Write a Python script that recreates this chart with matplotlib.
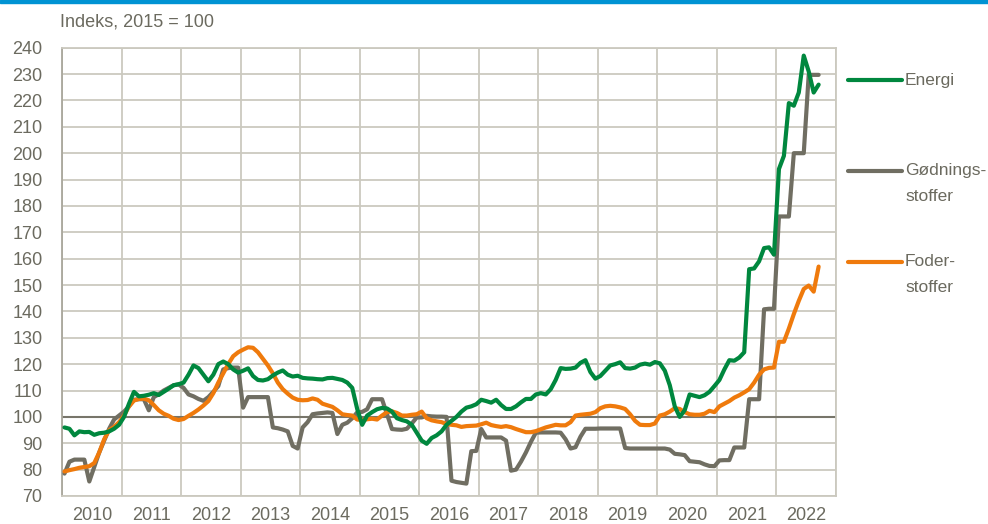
import numpy as np
import matplotlib
matplotlib.use("Agg")
import matplotlib.pyplot as plt
from matplotlib.lines import Line2D

plt.rcParams['font.family'] = ['Liberation Sans', 'DejaVu Sans']

# monthly index values, jan 2010 - sep 2022
years = list(range(2010, 2023))
energi = [
    96, 95.5, 93, 94.5, 94.2, 94.3, 93.2, 93.8, 94, 94.5, 95.5, 97,             # 2010
    100, 105, 109.5, 107.8, 108, 108.4, 109, 108.3, 109.5, 110.7, 112, 112.4,   # 2011
    113, 116, 119.5, 118.5, 116, 113.5, 116, 120, 121, 120, 118, 116.8,         # 2012
    117.5, 118.4, 115.5, 114, 113.8, 114.3, 115.7, 116.8, 117.6, 116, 115.3, 115.6,
    114.8, 114.6, 114.5, 114.3, 114.2, 114.7, 114.8, 114.4, 114, 113, 111, 103,
    97, 100.5, 101.8, 102.9, 103.4, 103.2, 102, 99.5, 98.8, 98.3, 97, 94,       # 2015
    91, 89.8, 92, 93, 94.5, 97, 98.5, 100, 102, 103.5, 104, 104.8,
    106.5, 106, 105.4, 106.5, 104.5, 103, 103, 104, 105.5, 106.8, 106.8, 108.5,
    109, 108.5, 110.5, 114, 118.5, 118.2, 118.3, 118.7, 120.5, 121.5, 117, 114.5,
    115.5, 117.5, 119.5, 120, 120.7, 118.5, 118.3, 118.7, 119.8, 120.2, 119.8, 120.8,
    120.3, 117.5, 112, 104, 100, 102.5, 108.5, 108, 107.5, 108.2, 109.5, 111.7,  # 2020
    114, 118, 121.5, 121.3, 122.5, 124.5, 156, 156.3, 159, 164, 164.3, 161.5,
    194, 199, 219, 218, 223, 237, 231, 223, 226,                                 # 2022
]
goedning = [
    78.5, 83, 83.8, 83.8, 83.8, 75.5, 81, 86.5, 91, 95.5, 99, 100.5,
    102, 104, 106.5, 106.7, 106.7, 102.5, 107.5, 108.6, 110, 111, 112, 112.3,
    111, 108.5, 107.8, 106.8, 106.1, 107.5, 109.5, 111.7, 118, 118.5, 118.7, 118.7,
    103.5, 107.5, 107.5, 107.5, 107.5, 107.5, 96, 95.7, 95.2, 94.5, 89, 88,
    96, 98, 101, 101.3, 101.5, 101.7, 101.5, 93.5, 97, 97.8, 99.5, 101.7,
    101.9, 102.9, 106.7, 106.7, 106.7, 101, 95.4, 95.2, 95.1, 95.5, 97.5, 99.8,
    99.8, 100.4, 100.2, 100.1, 100.1, 100, 75.8, 75.3, 75, 74.7, 87, 87.1,
    95.4, 92.2, 92.2, 92.2, 92.2, 91, 79.6, 80, 83, 86.5, 90.5, 94,
    94.1, 94.1, 94.1, 94.1, 94, 91.5, 88, 88.5, 92.5, 95.5, 95.5, 95.5,
    95.6, 95.6, 95.6, 95.6, 95.6, 88.2, 88, 88, 88, 88, 88, 88,
    88, 88, 87.6, 86, 85.8, 85.5, 83.2, 83, 82.8, 82, 81.4, 81.3,
    83.5, 83.6, 83.6, 88.4, 88.4, 88.4, 106.7, 106.7, 106.7, 140.8, 141, 141,
    176, 176, 176, 200, 200, 200, 229.7, 229.7, 229.7,
]
foder = [
    79.3, 79.8, 80.2, 80.7, 81, 81.3, 82.5, 86.5, 91.5, 95, 96.2, 98,
    100.5, 104, 106.2, 106.8, 106.9, 106.3, 104.5, 102.5, 101.2, 100.4, 99.3, 98.8,
    99.2, 100.4, 101.5, 102.8, 104.3, 106, 109, 113, 116.5, 120, 123, 124.5,
    125.5, 126.4, 126.2, 124.5, 122, 119.5, 116.5, 113, 110.5, 108.8, 107.3, 106.5,
    106.3, 106.4, 107, 106.5, 105, 104.4, 103.8, 102.5, 101, 100.7, 100.5, 99,
    98.8, 99.1, 99.3, 99, 100.5, 101.8, 102.1, 101.5, 100.5, 100.5, 100.8, 101,
    102, 99.5, 98.7, 98.3, 98, 97.3, 97, 96.8, 96.2, 96.5, 96.6, 96.7,
    97.2, 97.8, 96.9, 96.5, 96.2, 96.5, 96.1, 95.4, 94.8, 94.2, 94.2, 94.6,
    95.3, 96, 96.5, 97, 96.8, 96.8, 98, 100.5, 100.8, 101, 101.2, 101.8,
    103.3, 104, 104.2, 104, 103.6, 103, 101, 98.5, 97, 96.9, 96.9, 97.5,
    100.5, 101, 102, 103.3, 103, 101.8, 101, 100.8, 100.8, 101.2, 102.3, 101.8,
    104, 105, 106, 107.3, 108.2, 109.3, 110.5, 113, 116, 118, 118.6, 118.7,
    128.5, 128.5, 133.5, 139, 144, 148.5, 149.8, 147.5, 157,
]

green = '#00873e'
grey = '#706e62'
orange = '#ef7a0c'
txt = '#6b6a5f'
grid = '#cbc9bf'
fs = 13

fig = plt.figure(figsize=(9.88, 5.24), dpi=100)
ax = fig.add_axes([62 / 988, 1 - 496 / 524, (836 - 62) / 988, (496 - 47.7) / 524])

x = np.arange(len(energi)) + 0.5
ax.plot(x, goedning, color=grey, lw=3, solid_capstyle='round', zorder=3)
ax.plot(x, foder, color=orange, lw=3, solid_capstyle='round', zorder=4)
ax.plot(x, energi, color=green, lw=3, solid_capstyle='round', zorder=5)

ax.axhline(100, color='#77756a', lw=1.5, zorder=2)

ax.set_xlim(0, 12 * len(years))
ax.set_ylim(70, 240)
ax.set_xticks(np.arange(0, 12 * len(years) + 1, 12))
ax.set_xticks(np.arange(6, 12 * len(years), 12), minor=True)
ax.set_xticklabels([])
ax.set_xticklabels([str(y) for y in years], minor=True)
ax.set_yticks(np.arange(70, 241, 10))
ax.grid(True, which='major', color=grid, lw=1.3, zorder=0)
ax.tick_params(which='both', length=0, labelsize=fs, colors=txt)
ax.tick_params(axis='y', pad=14)
ax.tick_params(axis='x', which='minor', pad=8)
for s in ax.spines.values():
    s.set_color(grid)
    s.set_linewidth(1.3)
ax.spines['left'].set_color('#a9a79c')

fig.text(60 / 988, 1 - 22 / 524, 'Indeks, 2015 = 100', fontsize=fs, color=txt,
         va='center', ha='left')

# legend on the right, first text line centred on the swatch
legend_items = [(green, 80, ['Energi']), (grey, 171, ['Gødnings-', 'stoffer']),
                (orange, 262, ['Foder-', 'stoffer'])]
for col, ypx, lines in legend_items:
    yf = 1 - ypx / 524
    fig.add_artist(Line2D([848 / 988, 902 / 988], [yf, yf], color=col, lw=3,
                          solid_capstyle='round'))
    for i, line in enumerate(lines):
        fig.text(905 / 988, 1 - (ypx + 25 * i) / 524, line, fontsize=12.5,
                 color=txt, va='center', ha='left')

# blue band at the top
fig.add_artist(plt.Rectangle((0, 1 - 3 / 524), 1, 3 / 524, color='#0093d3',
                             transform=fig.transFigure))

fig.savefig('out.png', dpi=100)
